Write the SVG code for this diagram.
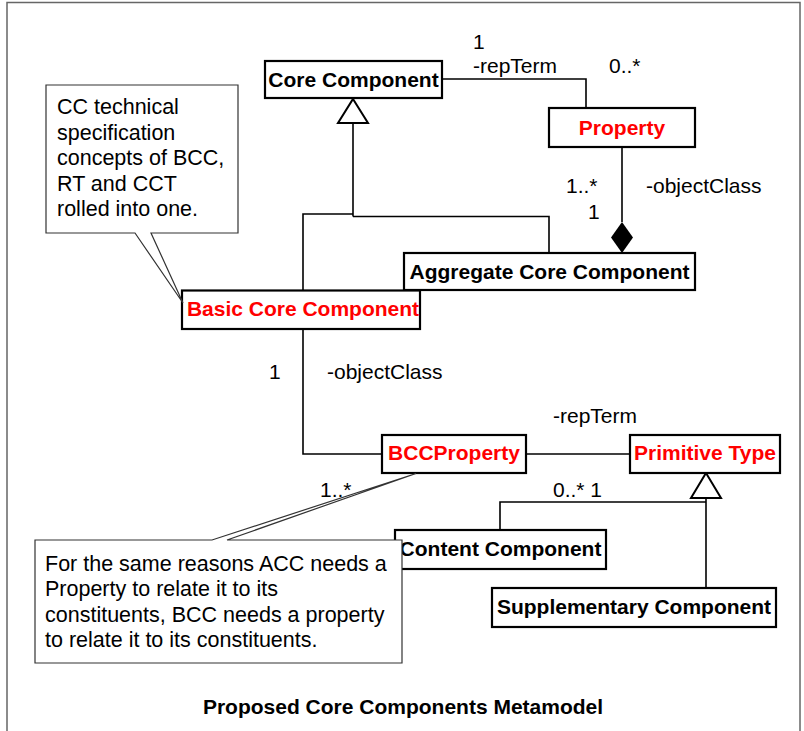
<svg xmlns="http://www.w3.org/2000/svg" width="804" height="731" viewBox="0 0 804 731">
<style>
.box{fill:#fff;stroke:#000;stroke-width:2.2}
.note{fill:#fff;stroke:#333;stroke-width:1.2}
.ln{fill:none;stroke:#000;stroke-width:1.6}
.gen{fill:#fff;stroke:#000;stroke-width:2}
.t{font-family:"Liberation Sans",Arial,sans-serif;font-size:21px;font-weight:bold;fill:#000;text-anchor:middle}
.r{fill:#ff0000}
.lab{font-family:"Liberation Sans",Arial,sans-serif;font-size:21px;fill:#000}
.nt{font-family:"Liberation Sans",Arial,sans-serif;font-size:21.5px;fill:#000}
</style>
<rect x="0" y="0" width="804" height="731" fill="#fff"/>
<rect x="7" y="2.5" width="793" height="760" fill="none" stroke="#666" stroke-width="1.5"/>

<g id="connectors">
  <path class="ln" d="M442,79 H586 V108"/>
  <path class="ln" d="M622,147 V222"/>
  <path d="M622,222 L633,237.5 L622,253 L611,237.5 Z" fill="#000"/>
  <path class="ln" d="M353,123 V216.5"/>
  <path class="ln" d="M303,290 V214 H353"/>
  <path class="ln" d="M549,253 V216.5 H353"/>
  <path class="gen" d="M353,99 L368,123 L338,123 Z"/>
  <path class="ln" d="M303,329 V454 H382"/>
  <path class="ln" d="M526,454 H630"/>
  <path class="ln" d="M500,530 V502 H706"/>
  <path class="ln" d="M706,498 V588"/>
  <path class="gen" d="M706,473 L721,498 L691,498 Z"/>
  <text class="lab" x="473" y="49">1</text>
  <text class="lab" x="473" y="73">-repTerm</text>
  <text class="lab" x="609" y="73">0..*</text>
  <text class="lab" x="566" y="193">1..*</text>
  <text class="lab" x="588" y="219">1</text>
  <text class="lab" x="646" y="193">-objectClass</text>
  <text class="lab" x="269" y="379">1</text>
  <text class="lab" x="327" y="379">-objectClass</text>
  <text class="lab" x="553" y="423">-repTerm</text>
  <text class="lab" x="320" y="497">1..*</text>
  <text class="lab" x="553" y="497">0..* 1</text>
</g>

<g id="core-component">
  <rect class="box" x="265" y="61" width="177" height="37"/>
  <text class="t" x="353.5" y="87">Core Component</text>
</g>
<g id="property">
  <rect class="box" x="549" y="108" width="146" height="39"/>
  <text class="t r" x="622" y="135">Property</text>
</g>
<g id="aggregate-core-component">
  <rect class="box" x="404" y="253" width="291" height="37"/>
  <text class="t" x="549.5" y="279">Aggregate Core Component</text>
</g>
<g id="basic-core-component">
  <rect class="box" x="182" y="290.5" width="238" height="38.5"/>
  <text class="t r" x="303" y="316">Basic Core Component</text>
</g>
<g id="bccproperty">
  <rect class="box" x="382" y="435" width="144" height="38"/>
  <text class="t r" x="454" y="460">BCCProperty</text>
</g>
<g id="primitive-type">
  <rect class="box" x="630" y="435" width="150" height="38"/>
  <text class="t r" x="705" y="460">Primitive Type</text>
</g>
<g id="content-component">
  <rect class="box" x="395" y="530" width="211" height="39"/>
  <text class="t" x="500.5" y="556">Content Component</text>
</g>
<g id="supplementary-component">
  <rect class="box" x="492" y="588" width="284" height="39"/>
  <text class="t" x="634" y="614">Supplementary Component</text>
</g>

<g id="note-cc">
  <path class="note" d="M46,85 H238 V233 H151 L183,303 L135,233 H46 Z"/>
  <text class="nt" x="57" y="114">CC technical</text>
  <text class="nt" x="57" y="139.5">specification</text>
  <text class="nt" x="57" y="165">concepts of BCC,</text>
  <text class="nt" x="57" y="190.5">RT and CCT</text>
  <text class="nt" x="57" y="216">rolled into one.</text>
</g>
<g id="note-bcc">
  <path class="note" d="M35,540 H212 L416,473.5 L227,540 H402 V663 H35 Z"/>
  <text class="nt" x="45" y="571">For the same reasons ACC needs a</text>
  <text class="nt" x="45" y="596">Property to relate it to its</text>
  <text class="nt" x="45" y="622">constituents, BCC needs a property</text>
  <text class="nt" x="45" y="647">to relate it to its constituents.</text>
</g>

<text class="t" x="403" y="714">Proposed Core Components Metamodel</text>
</svg>
